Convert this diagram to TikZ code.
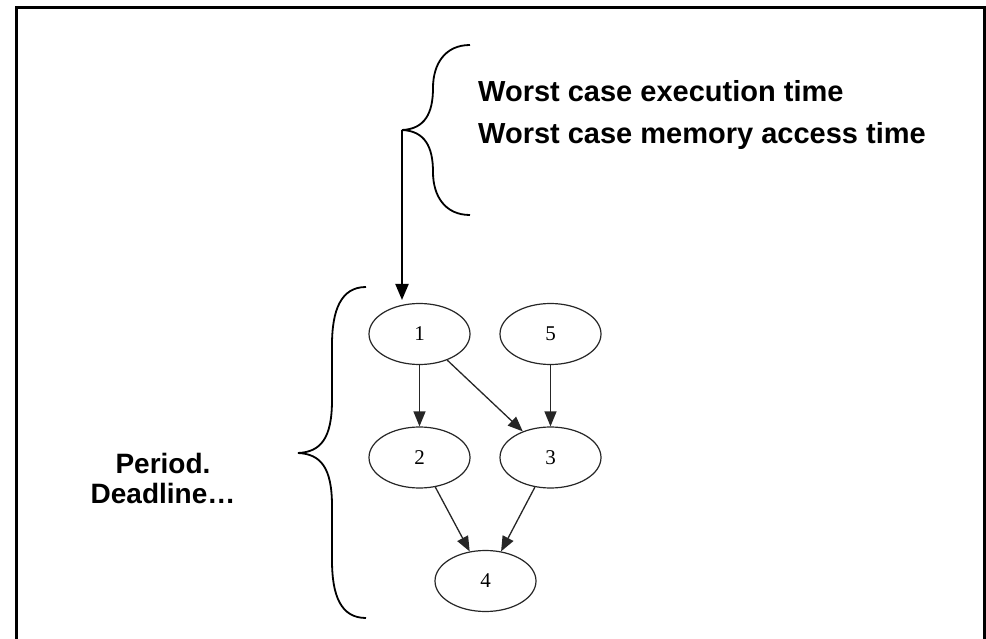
\documentclass[tikz,border=0pt]{standalone}
\usepackage{fontspec}
\setmainfont{Liberation Sans}
\newfontfamily\numfont{Liberation Serif}
\usetikzlibrary{shapes.geometric,arrows.meta}

\tikzset{
  task/.style={ellipse, draw=black!85, line width=1.2pt, minimum width=101pt,
               minimum height=61pt, inner sep=0pt, font=\numfont\fontsize{21}{21}\selectfont},
  dep/.style={draw=black!85, line width=1.3pt,
              -{Triangle[length=15pt,width=12pt]}},
  brace/.style={draw=black, line width=1.8pt},
  label/.style={font=\bfseries\fontsize{28}{30}\selectfont, inner sep=0pt},
  biglabel/.style={font=\bfseries\fontsize{29}{31}\selectfont, inner sep=0pt}
}

\begin{document}
\begin{tikzpicture}[x=1pt,y=-1pt]
  \useasboundingbox (0,0) rectangle (986,639);
  % outer frame, open at the bottom edge of the page
  \begin{scope}
    \clip (0,0) rectangle (986,639);
    \draw[line width=3pt] (16,660) -- (16,7.5) -- (984,7.5) -- (984,660);
  \end{scope}

  % timing annotations
  \node[biglabel, anchor=base west] (wcet) at (478,102) {Worst case execution time};
  \node[biglabel, anchor=base west] (wcma) at (478,144) {Worst case memory access time};

  % brace grouping the timing annotations
  \draw[brace] (470,45) .. controls (445,45) and (433,64) .. (433,88)
    .. controls (433,113) and (425,129) .. (402,130)
    .. controls (425,131) and (433,147) .. (433,172)
    .. controls (433,196) and (445,215) .. (470,215);
  \coordinate (cusp) at (402,130);
  \coordinate (target) at (402,300);
  \draw[line width=2pt, -{Triangle[length=16pt,width=13pt]}] (cusp) -- (target);

  % task graph
  \node[task] (n1) at (419.5,334) {1};
  \node[task] (n5) at (550.5,334) {5};
  \node[task] (n2) at (419.5,457.5) {2};
  \node[task] (n3) at (550.5,457.5) {3};
  \node[task] (n4) at (485.5,581) {4};

  \draw[dep] (n1) -- (n2);
  \draw[dep] (n1) -- (n3);
  \draw[dep] (n5) -- (n3);
  \draw[dep] (n2) -- (n4);
  \draw[dep] (n3) -- (n4);

  % brace grouping the whole graph
  \draw[brace] (366,287) .. controls (341,287) and (332,310) .. (332,345)
    -- (332,400) .. controls (332,438) and (321,452) .. (298,453)
    .. controls (321,454) and (332,468) .. (332,506)
    -- (332,560) .. controls (332,596) and (341,618) .. (366,618);

  % graph-level parameters
  \node[label, anchor=base] (period) at (163,473) {Period.};
  \node[label, anchor=base] (deadline) at (163,503) {Deadline…};
\end{tikzpicture}
\end{document}
